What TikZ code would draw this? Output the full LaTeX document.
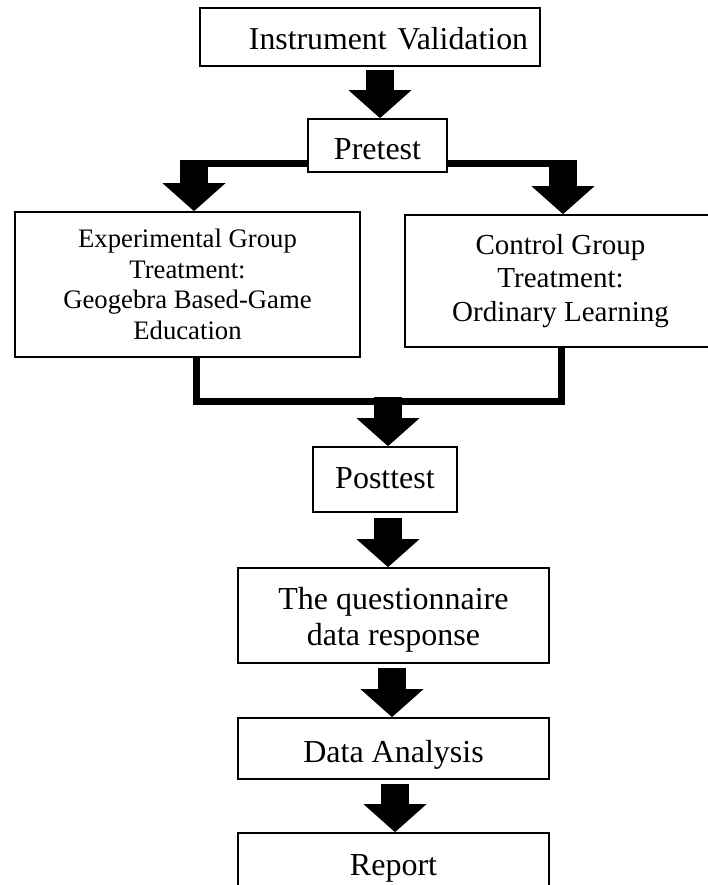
\documentclass[tikz,border=0pt]{standalone}
\usepackage{fontspec}
\setmainfont{Liberation Serif}
\usetikzlibrary{arrows.meta}
\tikzset{
  box/.style={draw=black, line width=1.7pt, rectangle, inner sep=0pt, align=center},
  bar/.style={draw=black, line width=7pt, line join=miter},
  blockarr/.style={draw=black, line width=28pt, -{Triangle[length=28pt,width=63pt,line width=0pt]}},
}
\newcommand{\fs}[2]{\fontsize{#1}{#2}\selectfont}
\begin{document}
\begin{tikzpicture}[x=1pt,y=-1pt]
\useasboundingbox (0,0) rectangle (707,885);
% boxes
\node[box, minimum width=340pt, minimum height=58pt, text width=316pt, align=right, inner xsep=12pt, text height=26pt, text depth=0pt, font={\fs{31.8}{36}}] (iv) at (370,37) {Instrument Validation};
\node[box, minimum width=139pt, minimum height=53pt, text height=29pt, text depth=0pt, font={\fs{32}{38}}] (pre) at (377.5,145.5) {Pretest};
\node[box, minimum width=345pt, minimum height=145pt, font={\fs{26.7}{30.7}}] (exp) at (187.5,284.5) {Experimental Group\\Treatment:\\Geogebra Based-Game\\Education};
\node[box, minimum width=311pt, minimum height=132pt, font={\fs{29}{33.5}}] (ctl) at (560.5,281) {Control Group\\Treatment:\\Ordinary Learning};
\node[box, minimum width=144pt, minimum height=65pt, text height=22pt, text depth=5pt, font={\fs{32}{38}}] (post) at (385,479.5) {Posttest};
\node[box, minimum width=311pt, minimum height=95pt, font={\fs{32}{36}}] (quest) at (393.5,615.5) {\rule{0pt}{30pt}The questionnaire\\data response};
\node[box, minimum width=311pt, minimum height=61pt, text height=27pt, text depth=0pt, font={\fs{32}{38}}] (da) at (393.5,748.5) {Data Analysis};
\node[box, minimum width=311pt, minimum height=67pt, text height=22pt, text depth=5pt, font={\fs{32}{38}}] (rep) at (393.5,866.5) {Report};
% connectors
\draw[blockarr] ([shift={(10,3)}]iv.south) -- ([shift={(2.5,0)}]pre.north);
\draw[bar] ([shift={(0,18)}]pre.west) -- (194,163.5);
\draw[blockarr] (194,160) -- ([shift={(6.5,0)}]exp.north);
\draw[bar] ([shift={(0,18)}]pre.east) -- (563,163.5);
\draw[blockarr] (563,160) -- ([shift={(2.5,0)}]ctl.north);
\draw[bar] ([shift={(8.5,0)}]exp.south) |- (561,401) -- ([shift={(0.5,0)}]ctl.south);
\coordinate (join) at (388,397);
\draw[blockarr] (join) -- ([shift={(3,0)}]post.north);
\draw[blockarr] ([shift={(3,5)}]post.south) -- ([shift={(-5.5,0)}]quest.north);
\draw[blockarr] ([shift={(-1.5,4)}]quest.south) -- ([shift={(-1.5,0)}]da.north);
\draw[blockarr] ([shift={(1.5,4)}]da.south) -- ([shift={(1.5,0)}]rep.north);
\end{tikzpicture}
\end{document}
